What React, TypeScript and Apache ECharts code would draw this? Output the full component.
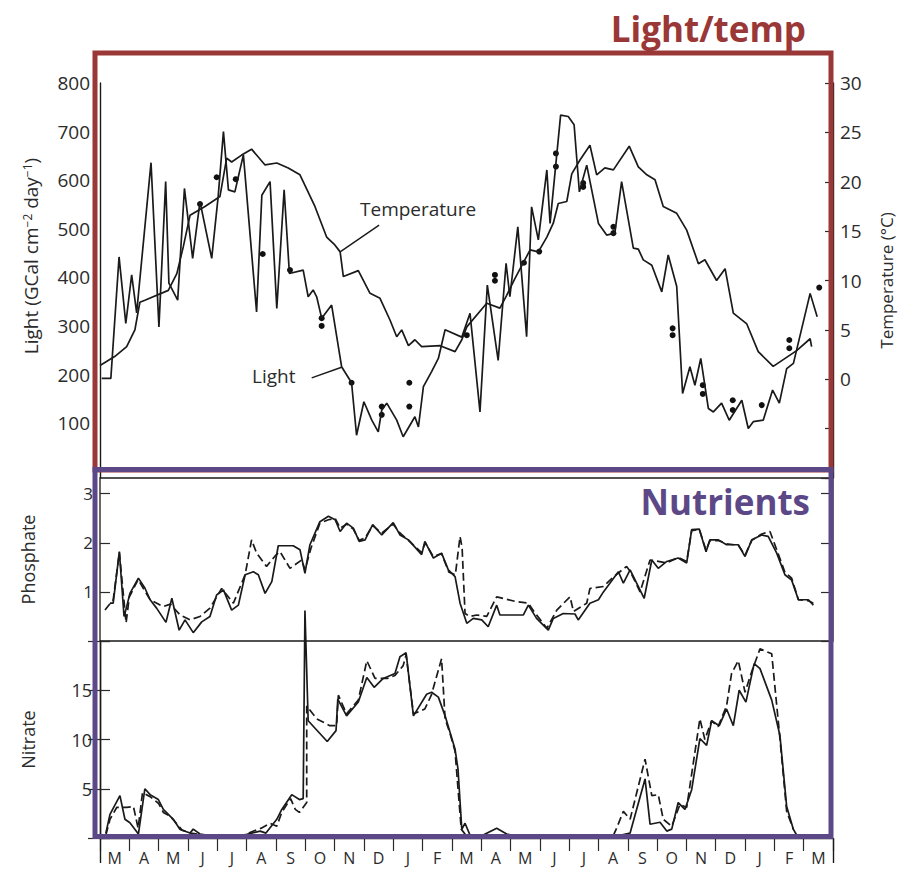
import React, { useEffect, useRef } from 'react';
import * as echarts from 'echarts';

// Months along the bottom axis: March of year one through March of year three.
const MONTHS = ['M', 'A', 'M', 'J', 'J', 'A', 'S', 'O', 'N', 'D', 'J', 'F', 'M', 'A', 'M', 'J', 'J', 'A', 'S', 'O', 'N', 'D', 'J', 'F', 'M'];

// Tick labels
const LIGHT_TICKS = [100, 200, 300, 400, 500, 600, 700, 800];

// [month since 1 March, GCal cm^-2 day^-1]
const LIGHT: [number, number][] = [
  [0.06, 192], [0.37, 192], [0.65, 442], [0.88, 305], [1.08, 405], [1.25, 327], [1.74, 636], [2.01, 298],
  [2.24, 597], [2.35, 388], [2.65, 353], [2.88, 583], [3.16, 439], [3.41, 556], [3.81, 439], [4.03, 566],
  [4.21, 700], [4.38, 580], [4.6, 576], [4.89, 652], [5.34, 329], [5.52, 569], [5.8, 597], [6.03, 336],
  [6.28, 580], [6.46, 408], [6.93, 415], [7.1, 360], [7.27, 374], [7.39, 360], [7.56, 316], [7.9, 343],
  [8.24, 216], [8.58, 183], [8.75, 75], [9.0, 144], [9.27, 106], [9.49, 82], [9.61, 127], [9.78, 141],
  [10.12, 106], [10.34, 72], [10.74, 113], [10.86, 92], [11.03, 175], [11.31, 206], [11.54, 233], [11.77, 292],
  [12.34, 277], [12.62, 326], [12.96, 123], [13.21, 384], [13.58, 229], [13.85, 429], [13.98, 360], [14.25, 504],
  [14.55, 278], [14.72, 545], [14.95, 477], [15.24, 621], [15.35, 511], [15.71, 734], [15.97, 731], [16.17, 714],
  [16.35, 576], [16.6, 631], [17.0, 511], [17.28, 487], [17.56, 491], [17.79, 597], [18.19, 460], [18.36, 458],
  [18.53, 436], [18.82, 425], [19.16, 370], [19.38, 446], [19.67, 381], [19.87, 161], [20.12, 216], [20.29, 178],
  [20.49, 233], [20.75, 130], [20.92, 123], [21.2, 141], [21.46, 106], [21.89, 147], [22.11, 89], [22.28, 103],
  [22.62, 106], [22.94, 168], [23.17, 141], [23.42, 212], [23.65, 223], [24.22, 367], [24.46, 319],
];

// Individual light observations shown as dots
const LIGHT_OBS: [number, number][] = [
  [3.41, 551], [3.98, 606], [4.63, 602], [5.55, 448], [6.48, 415], [7.56, 316], [7.56, 300], [8.58, 183],
  [9.61, 134], [9.61, 117], [10.55, 183], [10.55, 134], [12.51, 281], [13.47, 405], [13.47, 393], [14.46, 430],
  [14.98, 453], [15.55, 655], [15.55, 628], [16.48, 594], [16.48, 586], [17.51, 504], [17.51, 491], [19.53, 295],
  [19.53, 281], [20.56, 178], [20.56, 160], [21.58, 147], [21.58, 127], [22.57, 137], [23.51, 271], [23.51, 254],
  [24.53, 379],
];

// [month, °C]
const TEMPERATURE: [number, number][] = [
  [0.0, 1.4], [0.5, 2.3], [0.91, 3.3], [1.19, 5.0], [1.36, 7.8], [1.53, 8.0], [2.33, 9.0], [2.62, 10.7],
  [2.84, 13.4], [3.07, 16.6], [3.58, 17.5], [4.09, 18.5], [4.32, 22.4], [4.49, 22.0], [4.83, 22.7], [5.17, 23.3],
  [5.63, 21.7], [6.03, 21.9], [6.42, 21.4], [6.82, 20.7], [7.33, 17.5], [7.73, 14.4], [8.01, 13.6], [8.19, 12.9],
  [8.3, 10.4], [8.81, 11.0], [9.21, 8.7], [9.55, 8.2], [9.89, 6.0], [10.12, 4.3], [10.29, 5.0], [10.52, 3.4],
  [10.74, 4.0], [10.97, 3.3], [11.6, 3.4], [12.11, 2.8], [12.34, 4.0], [12.51, 5.3], [13.19, 7.7], [13.64, 7.2],
  [13.87, 8.5], [14.15, 10.2], [14.67, 13.1], [14.95, 12.9], [15.24, 14.4], [15.46, 15.8], [15.63, 17.8], [15.92, 18.0],
  [16.09, 20.8], [16.37, 22.2], [16.71, 23.7], [16.94, 20.7], [17.22, 21.4], [17.51, 21.2], [18.05, 23.6], [18.36, 21.5],
  [18.65, 20.7], [18.93, 20.2], [19.21, 17.5], [19.67, 16.8], [20.01, 15.1], [20.41, 11.7], [20.63, 12.1], [21.03, 10.0],
  [21.32, 11.2], [21.6, 6.7], [22.06, 5.6], [22.45, 2.8], [22.96, 1.3], [23.76, 2.9], [24.22, 4.1], [24.27, 3.3],
];

// Phosphate, two stations (solid and dashed)
const PHOSPHATE_SOLID: [number, number][] = [
  [0.34, 0.77], [0.45, 0.77], [0.66, 1.82], [0.82, 0.5], [0.91, 0.7], [1.02, 0.97], [1.31, 1.28], [1.53, 1.08],
  [1.71, 0.84], [1.93, 0.67], [2.25, 0.38], [2.45, 0.87], [2.7, 0.22], [2.9, 0.43], [3.18, 0.17], [3.47, 0.39],
  [3.75, 0.5], [3.98, 0.94], [4.21, 1.04], [4.49, 0.63], [4.72, 0.73], [4.95, 1.35], [5.23, 1.41], [5.4, 1.35],
  [5.63, 0.97], [5.86, 1.21], [6.08, 1.94], [6.59, 1.94], [6.82, 1.86], [6.99, 1.38], [7.16, 1.96], [7.5, 2.43],
  [7.79, 2.54], [8.02, 2.47], [8.19, 2.23], [8.41, 2.4], [8.64, 2.3], [8.84, 2.03], [9.04, 2.06], [9.3, 2.37],
  [9.61, 2.16], [10.0, 2.41], [10.23, 2.16], [10.52, 2.06], [10.97, 1.76], [11.08, 2.03], [11.37, 1.69], [11.65, 1.79],
  [11.88, 1.45], [12.11, 1.31], [12.28, 0.77], [12.51, 0.36], [12.73, 0.46], [13.02, 0.43], [13.24, 0.29], [13.53, 0.73],
  [13.64, 0.53], [14.44, 0.53], [14.61, 0.73], [14.89, 0.46], [15.29, 0.22], [15.46, 0.46], [15.8, 0.56], [16.2, 0.55],
  [16.31, 0.43], [16.71, 0.77], [17.0, 0.84], [17.17, 1.0], [17.68, 1.41], [17.85, 1.18], [18.08, 1.45], [18.56, 0.87],
  [18.82, 1.65], [19.04, 1.48], [19.33, 1.62], [19.72, 1.69], [20.01, 1.59], [20.18, 2.27], [20.44, 2.28], [20.67, 1.82],
  [20.8, 2.06], [21.09, 2.06], [21.37, 1.96], [21.77, 1.96], [22.0, 1.72], [22.23, 2.06], [22.57, 2.16], [22.79, 2.13],
  [23.08, 1.79], [23.36, 1.35], [23.59, 1.24], [23.82, 0.84], [24.16, 0.84], [24.33, 0.73],
];

const PHOSPHATE_DASHED: [number, number][] = [
  [0.17, 0.63], [0.45, 0.84], [0.66, 1.8], [0.89, 0.37], [1.0, 0.9], [1.3, 1.25], [1.71, 0.84], [2.15, 0.7],
  [2.4, 0.75], [2.73, 0.53], [3.07, 0.43], [3.41, 0.5], [3.75, 0.67], [4.15, 1.07], [4.55, 0.77], [4.95, 1.35],
  [5.17, 2.06], [5.34, 1.79], [5.68, 1.52], [6.0, 1.75], [6.14, 1.82], [6.48, 1.48], [6.88, 1.65], [6.99, 1.45],
  [7.2, 1.9], [7.5, 2.4], [7.79, 2.47], [8.02, 2.5], [8.19, 2.3], [8.41, 2.38], [8.64, 2.28], [8.84, 2.05],
  [9.04, 2.1], [9.3, 2.35], [9.61, 2.2], [10.0, 2.38], [10.23, 2.2], [10.52, 2.05], [10.97, 1.8], [11.09, 2.0],
  [11.37, 1.72], [11.65, 1.78], [11.9, 1.4], [12.12, 1.35], [12.28, 2.13], [12.35, 1.9], [12.45, 0.56], [12.62, 0.5],
  [12.85, 0.53], [13.19, 0.5], [13.53, 0.9], [14.21, 0.8], [14.61, 0.77], [14.8, 0.6], [15.24, 0.26], [15.58, 0.63],
  [16.03, 0.9], [16.15, 0.6], [16.6, 0.77], [16.71, 1.07], [17.17, 1.11], [17.5, 1.3], [17.96, 1.52], [18.1, 1.4],
  [18.42, 1.0], [18.76, 1.65], [19.33, 1.59], [19.72, 1.7], [20.01, 1.62], [20.18, 2.25], [20.44, 2.27], [20.67, 1.85],
  [20.8, 2.04], [21.09, 2.05], [21.37, 1.98], [21.77, 1.95], [22.0, 1.75], [22.23, 2.05], [22.57, 2.18], [22.85, 2.23],
  [23.08, 1.86], [23.36, 1.4], [23.59, 1.28], [23.82, 0.84], [24.16, 0.82], [24.33, 0.77],
];

// Nitrate, two stations (solid and dashed)
const NITRATE_SOLID: [number, number][] = [
  [0.2, 0.5], [0.34, 2.4], [0.68, 4.3], [0.85, 1.9], [1.02, 1.55], [1.31, 0.4], [1.53, 5.0], [1.71, 4.4],
  [1.99, 3.9], [2.16, 2.9], [2.33, 2.4], [2.5, 1.9], [2.73, 0.87], [3.07, 0.5], [3.18, 0.9], [3.41, 0.4],
  [3.86, 0.2], [4.77, 0.2], [5.46, 0.7], [5.66, 0.5], [6.03, 1.9], [6.2, 2.9], [6.54, 4.4], [6.8, 3.9],
  [6.93, 4.0], [6.99, 23.1], [7.1, 11.9], [7.75, 9.8], [8.05, 10.9], [8.11, 14.1], [8.41, 12.4], [8.81, 13.8],
  [9.1, 16.3], [9.35, 15.3], [9.66, 16.2], [10.06, 16.7], [10.23, 18.4], [10.44, 18.8], [10.69, 12.4], [11.14, 14.6],
  [11.31, 14.8], [11.54, 14.3], [11.77, 12.4], [11.94, 10.7], [12.11, 9.0], [12.21, 7.0], [12.34, 0.87], [12.45, 1.5],
  [12.62, 0.3], [13.07, 0.3], [13.53, 1.0], [13.87, 0.4], [14.2, 0.2], [17.62, 0.2], [18.08, 0.5], [18.59, 6.0],
  [18.76, 1.4], [19.1, 1.6], [19.33, 0.7], [19.5, 0.9], [19.72, 3.6], [19.95, 2.9], [20.18, 4.9], [20.46, 10.1],
  [20.69, 9.4], [20.86, 11.9], [21.12, 11.4], [21.37, 13.1], [21.6, 11.4], [21.8, 15.0], [22.03, 13.8], [22.31, 17.7],
  [22.51, 17.2], [22.91, 14.0], [23.19, 10.4], [23.42, 3.2], [23.65, 0.87], [23.76, 0.3],
];

const NITRATE_DASHED: [number, number][] = [
  [0.2, 0.3], [0.34, 1.9], [0.57, 3.1], [0.91, 3.1], [1.14, 3.2], [1.3, 1.0], [1.45, 4.6], [1.71, 4.2],
  [2.0, 3.5], [2.16, 2.6], [2.4, 2.2], [2.6, 1.5], [2.8, 0.8], [3.1, 0.5], [3.5, 0.3], [4.9, 0.3],
  [5.5, 1.0], [5.8, 1.5], [6.03, 1.2], [6.2, 2.6], [6.5, 4.0], [6.66, 2.9], [6.8, 2.6], [7.05, 3.6],
  [7.05, 13.4], [7.39, 12.1], [7.84, 11.4], [8.07, 11.4], [8.13, 14.5], [8.41, 12.6], [8.81, 14.0], [9.1, 18.0],
  [9.38, 16.2], [9.8, 16.2], [10.06, 16.5], [10.34, 17.5], [10.44, 18.6], [10.69, 12.6], [11.08, 13.1], [11.3, 14.5],
  [11.65, 18.2], [11.77, 12.1], [11.94, 10.6], [12.11, 8.8], [12.32, 0.9], [12.5, 0.2], [17.5, 0.2], [17.62, 1.0],
  [17.85, 2.7], [18.08, 1.9], [18.59, 8.0], [18.82, 4.3], [19.04, 4.4], [19.21, 1.9], [19.5, 1.2], [19.78, 3.4],
  [20.01, 3.1], [20.46, 12.1], [20.63, 10.0], [20.86, 11.9], [21.08, 11.3], [21.37, 13.4], [21.54, 16.7], [21.77, 18.0],
  [22.0, 14.8], [22.24, 17.0], [22.51, 19.2], [22.91, 18.7], [23.19, 10.1], [23.42, 2.7], [23.65, 0.87],
];

const INK = '#1a1a1a';
const TEXT = '#2b2b2b';
const FONT = "'Open Sans', sans-serif";
const RED = '#9a3737';
const PURPLE = '#5c4887';

const hiddenX = (gridIndex: number) => ({
  type: 'value', gridIndex, min: 0, max: 25, show: false, position: 'bottom',
});

function buildOption() {
  const solid = { color: INK, width: 1.7 };
  const dashed = { color: INK, width: 1.7, type: [8, 4] };
  return {
    animation: false,
    textStyle: { fontFamily: FONT },
    grid: [
      { left: 100, right: 70, top: 83, height: 395 },
      { left: 100, right: 70, top: 478, height: 163, show: true, borderColor: INK, borderWidth: 1.3, backgroundColor: 'transparent' },
      { left: 100, right: 70, top: 641, height: 197 },
    ],
    xAxis: [
      hiddenX(0),
      hiddenX(1),
      hiddenX(2),
      {
        type: 'category', gridIndex: 2, position: 'bottom', data: MONTHS.map((m, i) => m + i), boundaryGap: true,
        axisLine: { show: true, lineStyle: { color: INK, width: 1.3 } },
        axisTick: { show: true, length: 13, interval: 0, lineStyle: { color: TEXT, width: 1.2 } },
        axisLabel: { interval: 0, margin: 12, fontSize: 16, color: TEXT, formatter: (v: string) => v.charAt(0) },
      },
      {
        type: 'value', gridIndex: 2, position: 'bottom', min: 0, max: 25, interval: 25,
        axisLine: { show: false }, splitLine: { show: false }, axisLabel: { show: false },
        axisTick: { show: true, length: 25, lineStyle: { color: INK, width: 1.4 } },
      },
    ],
    yAxis: [
      {
        type: 'value', gridIndex: 0, position: 'left', min: -13, max: 800,
        splitLine: { show: false },
        axisLine: { show: true, lineStyle: { color: INK, width: 1.4 } },
        axisTick: { show: false, customValues: LIGHT_TICKS },
        axisLabel: { customValues: LIGHT_TICKS, fontSize: 19, color: TEXT, margin: 10 },
      },
      {
        type: 'value', gridIndex: 0, position: 'right', min: -10, max: 30, interval: 5,
        splitLine: { show: false },
        axisLine: { show: true, lineStyle: { color: INK, width: 1.4 } },
        axisTick: { show: true, inside: true, length: 8, lineStyle: { color: TEXT, width: 1.2 } },
        axisLabel: { fontSize: 19, color: TEXT, margin: 7, formatter: (v: number) => (v < 0 ? '' : String(v)) },
        name: 'Temperature (°C)', nameLocation: 'middle', nameRotate: 90, nameGap: 45,
        nameTextStyle: { fontSize: 17, color: TEXT },
      },
      {
        type: 'value', gridIndex: 1, position: 'left', min: 0, max: 3.32, interval: 1,
        splitLine: { show: false }, axisLine: { show: false },
        axisTick: { show: true, inside: true, length: 10, lineStyle: { color: TEXT, width: 1.2 } },
        axisLabel: { fontSize: 17, color: TEXT, margin: 7, formatter: (v: number) => (v === 0 ? '' : String(v)) },
        name: 'Phosphate', nameLocation: 'middle', nameRotate: 90, nameGap: 63,
        nameTextStyle: { fontSize: 18, color: TEXT },
      },
      {
        type: 'value', gridIndex: 1, position: 'right', min: 0, max: 3.32, interval: 1,
        splitLine: { show: false }, axisLine: { show: false }, axisLabel: { show: false },
        axisTick: { show: true, inside: true, length: 12, lineStyle: { color: TEXT, width: 1.2 } },
      },
      {
        type: 'value', gridIndex: 2, position: 'left', min: 0, max: 20, interval: 5,
        splitLine: { show: false },
        axisLine: { show: true, lineStyle: { color: INK, width: 1.4 } },
        axisTick: { show: true, inside: true, length: 10, lineStyle: { color: TEXT, width: 1.2 } },
        axisLabel: { fontSize: 18, color: TEXT, margin: 8, formatter: (v: number) => (v === 0 || v === 20 ? '' : String(v)) },
        name: 'Nitrate', nameLocation: 'middle', nameRotate: 90, nameGap: 63,
        nameTextStyle: { fontSize: 18, color: TEXT },
      },
      {
        type: 'value', gridIndex: 2, position: 'right', min: 0, max: 20, interval: 5,
        splitLine: { show: false }, axisLabel: { show: false },
        axisLine: { show: true, lineStyle: { color: INK, width: 1.4 } },
        axisTick: { show: true, inside: true, length: 12, lineStyle: { color: TEXT, width: 1.2 } },
      },
    ],
    series: [
      {
        name: 'Light', type: 'line', xAxisIndex: 0, yAxisIndex: 0, data: LIGHT, symbol: 'none', lineStyle: solid,
        markLine: {
          silent: true, symbol: ['none', 'none'], label: { show: false },
          lineStyle: { color: INK, width: 1.4, type: 'solid' },
          data: [[{ coord: [7.22, 193] }, { coord: [8.24, 215] }]],
        },
      },
      {
        name: 'Temperature', type: 'line', xAxisIndex: 0, yAxisIndex: 1, data: TEMPERATURE, symbol: 'none', lineStyle: solid,
        markLine: {
          silent: true, symbol: ['none', 'none'], label: { show: false },
          lineStyle: { color: INK, width: 1.4, type: 'solid' },
          data: [[{ coord: [8.19, 12.9] }, { coord: [9.52, 15.6] }]],
        },
      },
      {
        name: 'Light obs', type: 'scatter', xAxisIndex: 0, yAxisIndex: 0, data: LIGHT_OBS,
        symbol: 'circle', symbolSize: 6, itemStyle: { color: '#111111', opacity: 1 },
      },
      { name: 'Phosphate A', type: 'line', xAxisIndex: 1, yAxisIndex: 2, data: PHOSPHATE_SOLID, symbol: 'none', lineStyle: solid },
      { name: 'Phosphate B', type: 'line', xAxisIndex: 1, yAxisIndex: 2, data: PHOSPHATE_DASHED, symbol: 'none', lineStyle: dashed },
      { name: 'Nitrate A', type: 'line', xAxisIndex: 2, yAxisIndex: 4, data: NITRATE_SOLID, symbol: 'none', lineStyle: solid, clip: false },
      { name: 'Nitrate B', type: 'line', xAxisIndex: 2, yAxisIndex: 4, data: NITRATE_DASHED, symbol: 'none', lineStyle: dashed, clip: false },
    ],
    graphic: [
      {
        type: 'text', x: 31, y: 256, rotation: Math.PI / 2, z: 50,
        style: {
          text: '{a|Light (GCal cm}{s|−2}{a| day}{s|−1}{a|)}',
          align: 'center', verticalAlign: 'middle', fill: TEXT,
          rich: {
            a: { fontSize: 19, fontFamily: FONT, fill: TEXT },
            s: { fontSize: 12, fontFamily: FONT, fill: TEXT, verticalAlign: 'top' },
          },
        },
      },
      {
        type: 'text', x: 360, y: 209, z: 50,
        style: { text: 'Temperature', fontSize: 19, fontFamily: FONT, fill: TEXT, align: 'left', verticalAlign: 'middle' },
      },
      {
        type: 'text', x: 252, y: 376, z: 50,
        style: { text: 'Light', fontSize: 19, fontFamily: FONT, fill: TEXT, align: 'left', verticalAlign: 'middle' },
      },
      {
        type: 'rect', z: 100, shape: { x: 95, y: 53, width: 736, height: 417 },
        style: { fill: 'none', stroke: RED, lineWidth: 5 },
      },
      {
        type: 'rect', z: 101, shape: { x: 95, y: 469.5, width: 736, height: 367 },
        style: { fill: 'none', stroke: PURPLE, lineWidth: 5 },
      },
      {
        type: 'text', x: 806, y: 28, z: 102,
        style: { text: 'Light/temp', fontSize: 35, fontWeight: 'bold', fontFamily: FONT, fill: RED, align: 'right', verticalAlign: 'middle' },
      },
      {
        type: 'text', x: 810, y: 501, z: 102,
        style: { text: 'Nutrients', fontSize: 35, fontWeight: 'bold', fontFamily: FONT, fill: PURPLE, align: 'right', verticalAlign: 'middle' },
      },
    ],
  };
}

export default function App() {
  const ref = useRef<HTMLDivElement>(null);
  useEffect(() => {
    if (!ref.current) return;
    const chart = echarts.init(ref.current, undefined, { renderer: 'svg' });
    chart.setOption(buildOption() as any);
    return () => chart.dispose();
  }, []);
  return (
    <div
      ref={ref}
      style={{ position: 'absolute', left: 0, top: 0, width: 903, height: 869, background: '#ffffff' }}
    />
  );
}
